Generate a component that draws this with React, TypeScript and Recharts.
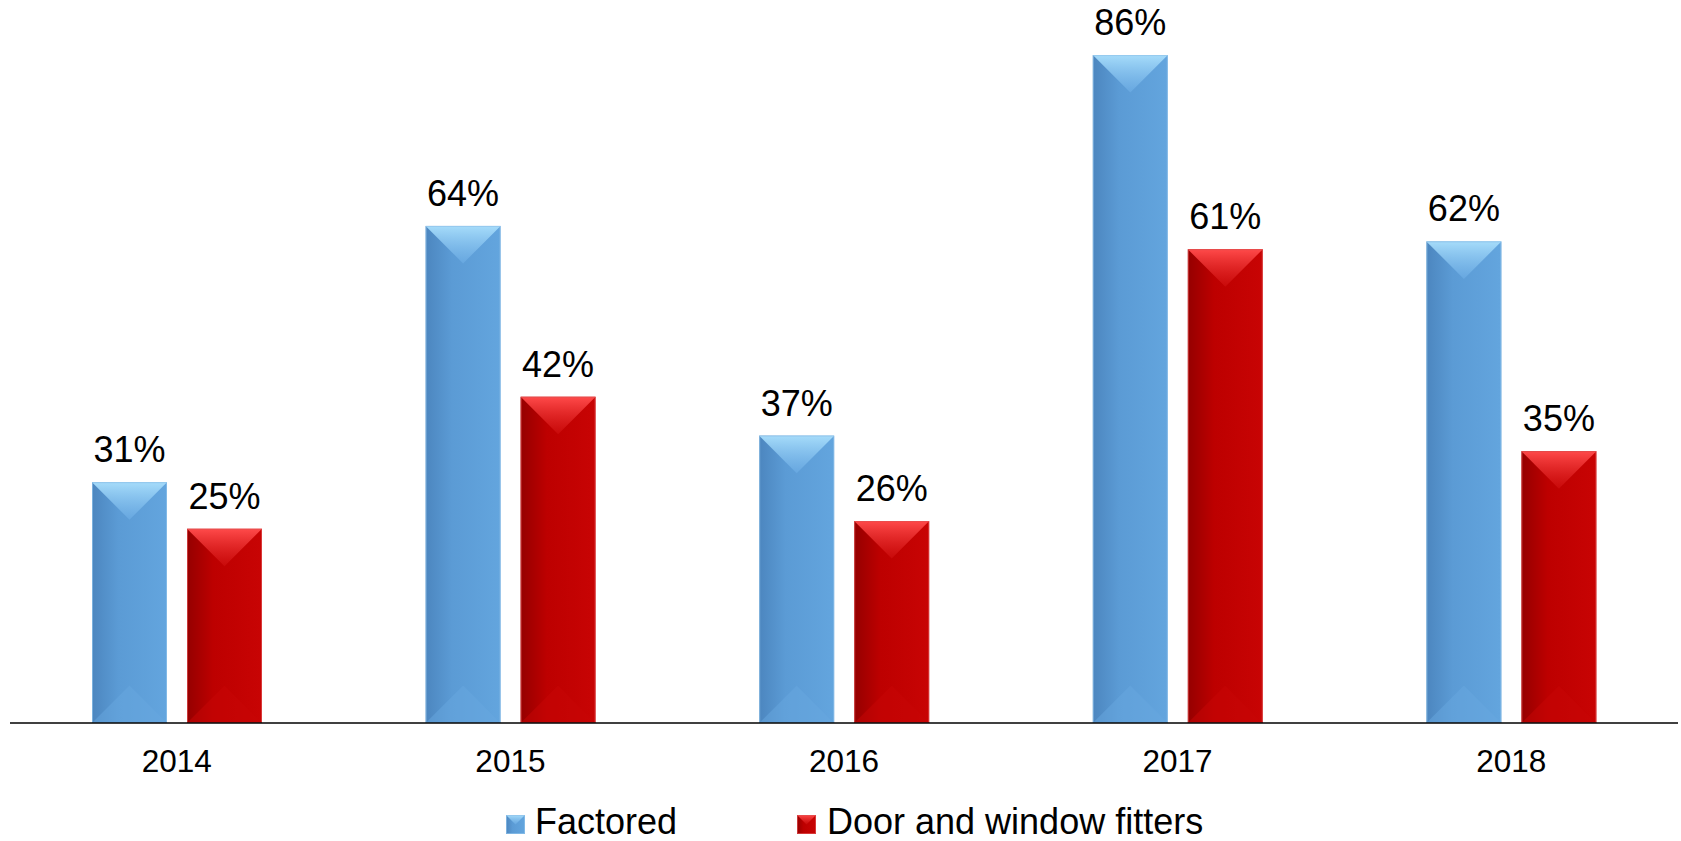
import { Bar, BarChart, LabelList, XAxis, YAxis } from "recharts";

const years = ["2014", "2015", "2016", "2017", "2018"];
const factored = [31, 64, 37, 86, 62];
const doorWindowFitters = [25, 42, 26, 61, 35];

const data = years.map((year, i) => ({
  year,
  factored: factored[i],
  fitters: doorWindowFitters[i]
}));

const FONT = "'Liberation Sans', Arial, Helvetica, sans-serif";

type Palette = {
  id: string;
  left: string;
  mid: string;
  right: string;
  topLight: string;
  topDark: string;
  bottom: string;
  edge: string;
};

const blue: Palette = {
  id: "blue",
  left: "#4c86bf",
  mid: "#5b9bd5",
  right: "#63a5de",
  topLight: "#a6dcfa",
  topDark: "#6eaee6",
  bottom: "#67a8e0",
  edge: "#8fc2ea"
};

const red: Palette = {
  id: "red",
  left: "#950000",
  mid: "#bd0000",
  right: "#c80404",
  topLight: "#ff4a4a",
  topDark: "#cf1010",
  bottom: "#c70606",
  edge: "#e05050"
};

function Gradients({ p }: { p: Palette }) {
  return (
    <>
      <linearGradient id={`${p.id}-body`} x1="0" y1="0" x2="1" y2="0">
        <stop offset="0" stopColor={p.left} />
        <stop offset="0.35" stopColor={p.mid} />
        <stop offset="1" stopColor={p.right} />
      </linearGradient>
      <linearGradient id={`${p.id}-top`} x1="0" y1="0" x2="0" y2="1">
        <stop offset="0" stopColor={p.topLight} />
        <stop offset="1" stopColor={p.topDark} stopOpacity={0.6} />
      </linearGradient>
    </>
  );
}

function bevelShape(p: Palette) {
  return (props: any) => {
    const { x, y, width, height } = props;
    if (!height || height <= 0) return <g />;
    const d = Math.min(width / 2, height / 2);
    return (
      <g>
        <rect x={x} y={y} width={width} height={height} fill={`url(#${p.id}-body)`} />
        <polygon
          points={`${x},${y} ${x + width},${y} ${x + width / 2},${y + d}`}
          fill={`url(#${p.id}-top)`}
        />
        <polygon
          points={`${x},${y + height} ${x + width},${y + height} ${x + width / 2},${y + height - d}`}
          fill={p.bottom}
          opacity={0.5}
        />
        <rect
          x={x + 0.5}
          y={y + 0.5}
          width={width - 1}
          height={height - 1}
          fill="none"
          stroke={p.edge}
          strokeWidth={1}
          opacity={0.7}
        />
      </g>
    );
  };
}

function LegendMarker({ x, y, p }: { x: number; y: number; p: Palette }) {
  const s = 19;
  return (
    <g>
      <rect x={x} y={y} width={s} height={s} fill={`url(#${p.id}-body)`} />
      <polygon points={`${x},${y} ${x + s},${y} ${x + s / 2},${y + s / 2}`} fill={`url(#${p.id}-top)`} />
      <rect x={x + 0.5} y={y + 0.5} width={s - 1} height={s - 1} fill="none" stroke={p.edge} opacity={0.7} />
    </g>
  );
}

const pct = (v: any) => `${v}%`;

export default function App() {
  return (
    <div style={{ position: "relative", width: 1681, height: 841, background: "#ffffff", fontFamily: FONT }}>
      <style>{"body{margin:0}"}</style>
      <BarChart
        width={1681}
        height={841}
        data={data}
        margin={{ top: 24, right: 3, bottom: 0, left: 10 }}
        barSize={75}
        barGap={20}
      >
        <defs>
          <Gradients p={blue} />
          <Gradients p={red} />
        </defs>
        <YAxis hide domain={[0, 90]} />
        <XAxis
          dataKey="year"
          height={118}
          axisLine={{ stroke: "#000000", strokeWidth: 1.5 }}
          tickLine={false}
          tickSize={0}
          tickMargin={27}
          tick={{ fill: "#000000", fontSize: 31.5, fontFamily: FONT }}
        />
        <Bar dataKey="factored" isAnimationActive={false} shape={bevelShape(blue)}>
          <LabelList
            dataKey="factored"
            position="top"
            offset={20}
            formatter={pct}
            style={{ fill: "#000000", fontSize: 36, fontFamily: FONT }}
          />
        </Bar>
        <Bar dataKey="fitters" isAnimationActive={false} shape={bevelShape(red)}>
          <LabelList
            dataKey="fitters"
            position="top"
            offset={20}
            formatter={pct}
            style={{ fill: "#000000", fontSize: 36, fontFamily: FONT }}
          />
        </Bar>
      </BarChart>
      <svg
        width={1681}
        height={841}
        style={{ position: "absolute", left: 0, top: 0, pointerEvents: "none" }}
      >
        <defs>
          <Gradients p={{ ...blue, id: "lg-blue" }} />
          <Gradients p={{ ...red, id: "lg-red" }} />
        </defs>
        <LegendMarker x={506} y={815} p={{ ...blue, id: "lg-blue" }} />
        <text x={535} y={834} fontSize={36} fontFamily={FONT} fill="#000000">
          Factored
        </text>
        <LegendMarker x={797} y={815} p={{ ...red, id: "lg-red" }} />
        <text x={827} y={834} fontSize={36} fontFamily={FONT} fill="#000000">
          Door and window fitters
        </text>
      </svg>
    </div>
  );
}
